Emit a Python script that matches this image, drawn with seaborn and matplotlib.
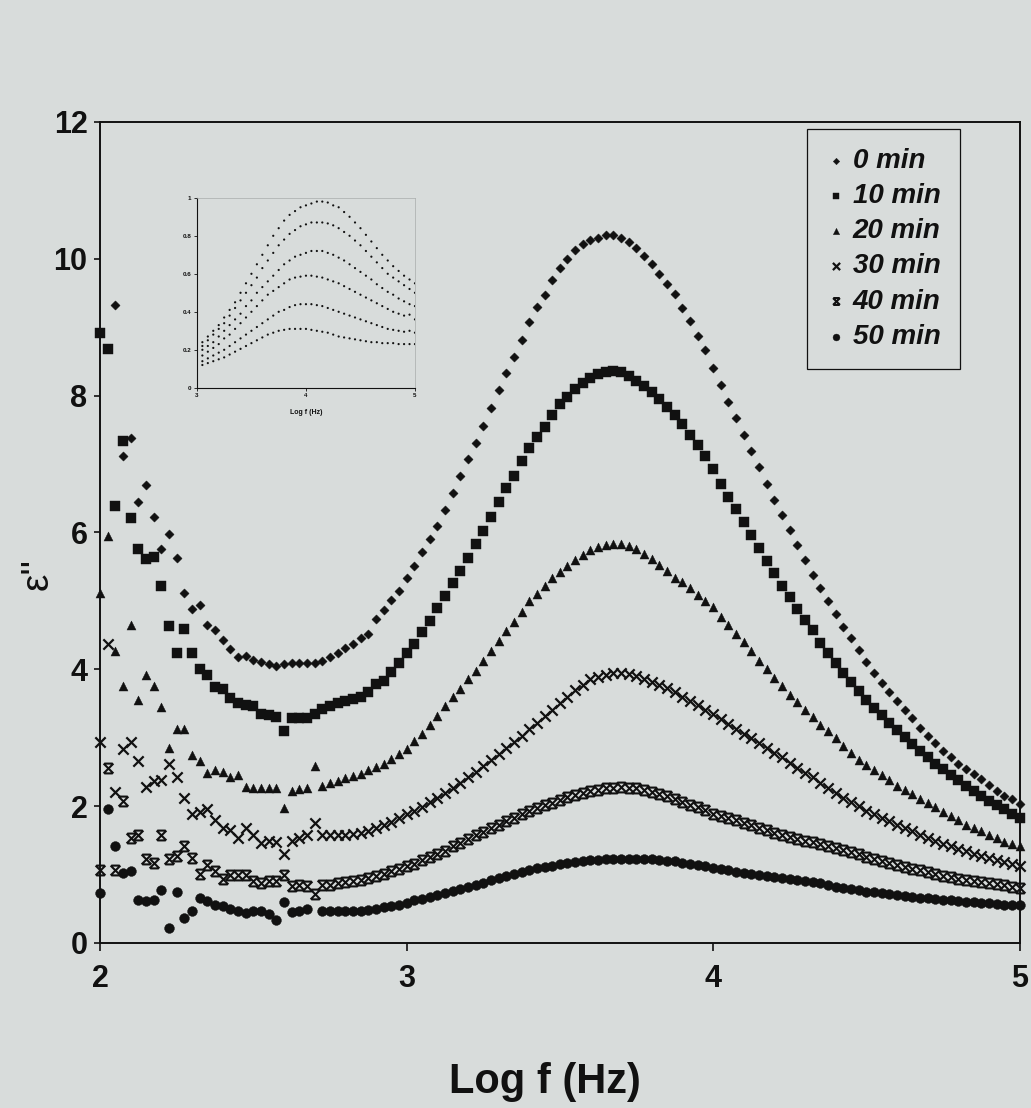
import numpy as np
import matplotlib
matplotlib.use("Agg")
import matplotlib.pyplot as plt
from matplotlib.path import Path
from matplotlib.font_manager import FontProperties
import seaborn as sns

nan = np.nan

# ---- main plot data (log f grid, eps'' per sintering time) ----
log_f = [
    2.000, 2.025, 2.050, 2.075, 2.100, 2.125, 2.150, 2.175, 2.200, 2.225,
    2.250, 2.275, 2.300, 2.325, 2.350, 2.375, 2.400, 2.425, 2.450, 2.475,
    2.500, 2.525, 2.550, 2.575, 2.600, 2.625, 2.650, 2.675, 2.700, 2.725,
    2.750, 2.775, 2.800, 2.825, 2.850, 2.875, 2.900, 2.925, 2.950, 2.975,
    3.000, 3.025, 3.050, 3.075, 3.100, 3.125, 3.150, 3.175, 3.200, 3.225,
    3.250, 3.275, 3.300, 3.325, 3.350, 3.375, 3.400, 3.425, 3.450, 3.475,
    3.500, 3.525, 3.550, 3.575, 3.600, 3.625, 3.650, 3.675, 3.700, 3.725,
    3.750, 3.775, 3.800, 3.825, 3.850, 3.875, 3.900, 3.925, 3.950, 3.975,
    4.000, 4.025, 4.050, 4.075, 4.100, 4.125, 4.150, 4.175, 4.200, 4.225,
    4.250, 4.275, 4.300, 4.325, 4.350, 4.375, 4.400, 4.425, 4.450, 4.475,
    4.500, 4.525, 4.550, 4.575, 4.600, 4.625, 4.650, 4.675, 4.700, 4.725,
    4.750, 4.775, 4.800, 4.825, 4.850, 4.875, 4.900, 4.925, 4.950, 4.975,
    5.000]

eps_0min = [
    nan, nan, 9.33, 7.12, 7.38, 6.45, 6.70, 6.23, 5.75, 5.98,
    5.62, 5.11, 4.88, 4.94, 4.64, 4.57, 4.43, 4.29, 4.18, 4.20,
    4.14, 4.10, 4.08, 4.05, 4.08, 4.09, 4.09, 4.09, 4.09, 4.12,
    4.18, 4.24, 4.31, 4.37, 4.45, 4.52, 4.74, 4.86, 5.01, 5.15,
    5.33, 5.51, 5.71, 5.90, 6.10, 6.33, 6.58, 6.82, 7.07, 7.30,
    7.55, 7.82, 8.08, 8.33, 8.57, 8.81, 9.07, 9.29, 9.47, 9.69,
    9.86, 10.00, 10.13, 10.21, 10.27, 10.31, 10.34, 10.35, 10.31, 10.24,
    10.15, 10.04, 9.92, 9.78, 9.63, 9.48, 9.28, 9.09, 8.87, 8.67,
    8.40, 8.15, 7.91, 7.67, 7.43, 7.19, 6.95, 6.71, 6.47, 6.25,
    6.04, 5.81, 5.60, 5.38, 5.18, 4.99, 4.80, 4.62, 4.45, 4.28,
    4.10, 3.94, 3.80, 3.66, 3.53, 3.40, 3.28, 3.14, 3.03, 2.92,
    2.81, 2.71, 2.62, 2.54, 2.47, 2.40, 2.31, 2.22, 2.15, 2.10,
    2.03]

eps_10min = [
    8.92, 8.68, 6.39, 7.33, 6.21, 5.76, 5.61, 5.64, 5.22, 4.63,
    4.24, 4.59, 4.23, 4.01, 3.92, 3.74, 3.71, 3.58, 3.50, 3.47,
    3.46, 3.35, 3.33, 3.30, 3.09, 3.29, 3.28, 3.28, 3.35, 3.42,
    3.46, 3.50, 3.54, 3.57, 3.60, 3.66, 3.79, 3.83, 3.96, 4.09,
    4.24, 4.37, 4.54, 4.71, 4.89, 5.07, 5.26, 5.44, 5.63, 5.83,
    6.02, 6.23, 6.44, 6.65, 6.83, 7.05, 7.23, 7.39, 7.54, 7.72,
    7.87, 7.98, 8.09, 8.19, 8.26, 8.31, 8.35, 8.36, 8.35, 8.29,
    8.22, 8.14, 8.05, 7.95, 7.83, 7.71, 7.58, 7.43, 7.28, 7.11,
    6.92, 6.71, 6.52, 6.34, 6.15, 5.96, 5.77, 5.58, 5.40, 5.22,
    5.05, 4.88, 4.72, 4.57, 4.39, 4.24, 4.09, 3.95, 3.82, 3.68,
    3.55, 3.44, 3.33, 3.22, 3.11, 3.01, 2.90, 2.80, 2.71, 2.62,
    2.54, 2.45, 2.38, 2.30, 2.22, 2.15, 2.08, 2.01, 1.95, 1.89,
    1.83]

eps_20min = [
    5.12, 5.94, 4.26, 3.76, 4.65, 3.55, 3.91, 3.76, 3.45, 2.85,
    3.13, 3.13, 2.75, 2.66, 2.48, 2.53, 2.50, 2.42, 2.46, 2.28,
    2.27, 2.27, 2.27, 2.26, 1.97, 2.22, 2.25, 2.27, 2.59, 2.30,
    2.33, 2.37, 2.41, 2.44, 2.47, 2.52, 2.57, 2.61, 2.69, 2.76,
    2.84, 2.95, 3.05, 3.18, 3.32, 3.46, 3.59, 3.71, 3.85, 3.98,
    4.12, 4.27, 4.41, 4.56, 4.69, 4.84, 4.99, 5.10, 5.21, 5.33,
    5.42, 5.51, 5.59, 5.67, 5.74, 5.79, 5.81, 5.83, 5.83, 5.80,
    5.75, 5.69, 5.61, 5.52, 5.43, 5.34, 5.27, 5.18, 5.09, 5.00,
    4.91, 4.77, 4.64, 4.52, 4.40, 4.26, 4.12, 4.00, 3.87, 3.75,
    3.63, 3.52, 3.41, 3.30, 3.19, 3.09, 2.99, 2.88, 2.78, 2.68,
    2.60, 2.53, 2.45, 2.38, 2.30, 2.24, 2.17, 2.10, 2.05, 1.98,
    1.92, 1.86, 1.79, 1.73, 1.68, 1.63, 1.58, 1.54, 1.48, 1.45,
    1.42]

eps_30min = [
    2.94, 4.37, 2.21, 2.84, 2.94, 2.66, 2.28, 2.36, 2.38, 2.62,
    2.43, 2.12, 1.89, 1.92, 1.96, 1.80, 1.68, 1.65, 1.53, 1.68,
    1.57, 1.46, 1.49, 1.47, 1.30, 1.49, 1.53, 1.57, 1.75, 1.57,
    1.57, 1.57, 1.58, 1.59, 1.61, 1.64, 1.68, 1.72, 1.77, 1.82,
    1.88, 1.93, 1.99, 2.06, 2.12, 2.19, 2.26, 2.34, 2.42, 2.50,
    2.58, 2.67, 2.76, 2.85, 2.94, 3.03, 3.12, 3.22, 3.31, 3.41,
    3.50, 3.60, 3.69, 3.77, 3.85, 3.89, 3.92, 3.94, 3.95, 3.93,
    3.90, 3.86, 3.81, 3.77, 3.72, 3.67, 3.60, 3.54, 3.47, 3.41,
    3.34, 3.27, 3.20, 3.13, 3.06, 2.99, 2.92, 2.85, 2.78, 2.71,
    2.63, 2.55, 2.48, 2.42, 2.34, 2.27, 2.19, 2.12, 2.06, 2.00,
    1.93, 1.88, 1.83, 1.78, 1.73, 1.68, 1.63, 1.58, 1.53, 1.49,
    1.45, 1.41, 1.37, 1.34, 1.30, 1.27, 1.24, 1.21, 1.18, 1.15,
    1.13]

eps_40min = [
    1.07, 2.55, 1.07, 2.08, 1.54, 1.57, 1.22, 1.17, 1.58, 1.22,
    1.27, 1.41, 1.24, 1.00, 1.14, 1.05, 0.93, 0.99, 0.99, 0.99,
    0.90, 0.88, 0.91, 0.90, 0.99, 0.83, 0.85, 0.83, 0.72, 0.85,
    0.85, 0.88, 0.89, 0.90, 0.92, 0.95, 0.98, 1.01, 1.05, 1.08,
    1.12, 1.16, 1.21, 1.25, 1.30, 1.35, 1.41, 1.46, 1.52, 1.57,
    1.62, 1.68, 1.73, 1.78, 1.83, 1.88, 1.93, 1.97, 2.01, 2.05,
    2.09, 2.13, 2.16, 2.19, 2.22, 2.24, 2.26, 2.27, 2.28, 2.27,
    2.26, 2.24, 2.21, 2.18, 2.14, 2.10, 2.06, 2.02, 1.98, 1.94,
    1.89, 1.86, 1.82, 1.79, 1.75, 1.72, 1.68, 1.65, 1.61, 1.58,
    1.55, 1.52, 1.49, 1.47, 1.44, 1.41, 1.38, 1.36, 1.33, 1.30,
    1.26, 1.23, 1.20, 1.17, 1.14, 1.11, 1.08, 1.06, 1.03, 1.00,
    0.98, 0.96, 0.94, 0.92, 0.90, 0.89, 0.87, 0.86, 0.84, 0.82,
    0.80]

eps_50min = [
    0.73, 1.95, 1.41, 1.02, 1.05, 0.62, 0.61, 0.62, 0.77, 0.22,
    0.75, 0.37, 0.47, 0.66, 0.61, 0.56, 0.54, 0.50, 0.47, 0.43,
    0.47, 0.47, 0.42, 0.33, 0.60, 0.45, 0.46, 0.49, nan, 0.46,
    0.46, 0.46, 0.46, 0.46, 0.47, 0.48, 0.50, 0.52, 0.54, 0.56,
    0.59, 0.62, 0.64, 0.67, 0.70, 0.73, 0.76, 0.79, 0.82, 0.85,
    0.88, 0.92, 0.95, 0.98, 1.01, 1.04, 1.07, 1.09, 1.11, 1.13,
    1.15, 1.17, 1.18, 1.20, 1.21, 1.21, 1.22, 1.22, 1.23, 1.23,
    1.23, 1.23, 1.22, 1.21, 1.20, 1.19, 1.17, 1.16, 1.14, 1.12,
    1.10, 1.08, 1.06, 1.04, 1.02, 1.00, 0.99, 0.98, 0.97, 0.95,
    0.94, 0.92, 0.90, 0.89, 0.87, 0.85, 0.82, 0.80, 0.79, 0.77,
    0.75, 0.74, 0.73, 0.71, 0.70, 0.69, 0.67, 0.66, 0.65, 0.64,
    0.63, 0.62, 0.61, 0.60, 0.60, 0.59, 0.58, 0.57, 0.56, 0.56,
    0.55]

labels = ['0 min', '10 min', '20 min', '30 min', '40 min', '50 min']

# ---- inset data ----
inset_log_f = [
    3.00, 3.05, 3.10, 3.15, 3.20, 3.25, 3.30, 3.35, 3.40, 3.45,
    3.50, 3.55, 3.60, 3.65, 3.70, 3.75, 3.80, 3.85, 3.90, 3.95,
    4.00, 4.05, 4.10, 4.15, 4.20, 4.25, 4.30, 4.35, 4.40, 4.45,
    4.50, 4.55, 4.60, 4.65, 4.70, 4.75, 4.80, 4.85, 4.90, 4.95,
    5.00]
inset_a = [.22, .24, .27, .30, .33, .37, .41, .45, .50, .55,
           .60, .65, .70, .75, .80, .84, .88, .91, .93, .95,
           .96, .97, .98, .98, .975, .96, .95, .925, .90, .87,
           .84, .805, .77, .735, .70, .67, .64, .615, .59, .57, .55]
inset_b = [.20, .22, .25, .28, .31, .34, .38, .42, .46, .50,
           .54, .58, .63, .67, .71, .75, .78, .81, .83, .85,
           .86, .87, .87, .87, .865, .855, .84, .82, .80, .775,
           .75, .72, .69, .66, .63, .60, .58, .56, .54, .52, .50]
inset_c = [.18, .20, .22, .24, .27, .30, .33, .36, .39, .43,
           .46, .50, .53, .56, .59, .62, .65, .67, .69, .70,
           .71, .72, .72, .72, .71, .70, .685, .67, .65, .63,
           .61, .59, .57, .545, .525, .505, .49, .47, .455, .44, .43]
inset_d = [.15, .17, .19, .21, .23, .26, .28, .31, .34, .37,
           .40, .43, .46, .49, .51, .53, .55, .57, .58, .585,
           .59, .59, .585, .58, .57, .56, .55, .535, .52, .505,
           .49, .475, .46, .445, .43, .415, .40, .39, .38, .385, .36]
inset_e = [.13, .14, .155, .17, .185, .20, .22, .24, .26, .28,
           .30, .32, .34, .36, .38, .40, .41, .425, .435, .44,
           .44, .44, .435, .43, .42, .41, .40, .39, .38, .37,
           .36, .35, .34, .33, .32, .31, .305, .30, .295, .30, .29]
inset_f = [.11, .12, .13, .14, .15, .16, .175, .19, .205, .22,
           .235, .25, .265, .28, .29, .30, .305, .31, .31, .31,
           .31, .305, .30, .295, .29, .28, .27, .265, .26, .255,
           .25, .245, .24, .24, .235, .235, .235, .23, .23, .23, .23]

# ---- style ----
sns.set_theme(style='ticks')
plt.rcParams['font.family'] = ['Liberation Sans Narrow', 'Liberation Sans', 'DejaVu Sans']
bg = '#d8dcdb'
ink = '#111111'
plt.rcParams['text.color'] = ink

# X with top and bottom bars, used for 40 min
hourglass = Path([(-1, -1), (1, 1), (-1, 1), (1, -1),
                  (-0.85, 1), (0.85, 1), (-0.85, -1), (0.85, -1)],
                 [Path.MOVETO, Path.LINETO] * 4)

series = [eps_0min, eps_10min, eps_20min, eps_30min, eps_40min, eps_50min]
markers = ['D', 's', '^', 'x', hourglass, 'o']
sizes = [22, 46, 42, 55, 50, 50]
widths = [0.3, 0.3, 0.3, 1.6, 1.5, 0.3]

fig = plt.figure(figsize=(10.31, 11.08), dpi=100, facecolor=bg)
ax = fig.add_axes([0.097, 0.149, 0.892, 0.741], facecolor=bg)

for y, m, s, lw, lab in zip(series, markers, sizes, widths, labels):
    sns.scatterplot(x=log_f, y=y, marker=m, s=s, color=ink, edgecolor=ink,
                    linewidth=lw, label=lab, ax=ax, clip_on=False, zorder=3)

ax.set_xlim(2, 5)
ax.set_ylim(0, 12)
ax.set_xticks([2, 3, 4, 5])
ax.set_yticks([0, 2, 4, 6, 8, 10, 12])
ax.tick_params(axis='x', length=6, width=1.2, pad=9, labelsize=22, colors=ink)
ax.tick_params(axis='y', length=4, width=1.2, pad=5, labelsize=22, colors=ink)
for t in ax.get_xticklabels() + ax.get_yticklabels():
    t.set_fontweight('bold')
for sp in ax.spines.values():
    sp.set_visible(True)
    sp.set_linewidth(1.4)
    sp.set_color(ink)

ax.set_xlabel('Log f (Hz)', fontsize=30, fontweight='bold', color=ink)
ax.xaxis.set_label_coords(0.484, -0.17)
ax.xaxis.label.set_va('center')
ax.set_ylabel("\u03b5''", fontsize=28, color=ink)
ax.yaxis.set_label_coords(-0.068, 0.45)
ax.yaxis.label.set_va('center')

leg = ax.legend(loc='upper right', bbox_to_anchor=(0.931, 0.884),
                bbox_transform=fig.transFigure, borderaxespad=0,
                prop=FontProperties(family=['Liberation Sans Narrow', 'Liberation Sans'],
                                    weight='bold', style='italic', size=20),
                frameon=True, fancybox=False, edgecolor=ink, facecolor=bg,
                framealpha=1, borderpad=0.7, labelspacing=0.33,
                handlelength=0.7, handletextpad=0.25, markerscale=0.7,
                labelcolor=ink)
leg.get_frame().set_linewidth(0.9)

# ---- inset ----
axi = fig.add_axes([0.191, 0.650, 0.2115, 0.1715], facecolor=bg)
for y in [inset_a, inset_b, inset_c, inset_d, inset_e, inset_f]:
    sns.scatterplot(x=inset_log_f, y=y, marker='o', s=2.5, color=ink,
                    edgecolor='none', ax=axi, legend=False)
axi.set_xlim(3, 5)
axi.set_ylim(0, 1)
axi.set_xticks([3, 4, 5])
axi.set_xticklabels(['3', '4', '5'])
axi.set_yticks([0, 0.2, 0.4, 0.6, 0.8, 1.0])
axi.set_yticklabels(['0', '0.2', '0.4', '0.6', '0.8', '1'])
axi.tick_params(length=2, width=0.6, pad=2, labelsize=4.5, colors=ink)
for t in axi.get_xticklabels() + axi.get_yticklabels():
    t.set_fontweight('bold')
axi.spines['left'].set_color(ink)
axi.spines['bottom'].set_color(ink)
axi.spines['left'].set_linewidth(0.8)
axi.spines['bottom'].set_linewidth(0.8)
axi.spines['top'].set_color('#a8acab')
axi.spines['right'].set_color('#a8acab')
axi.spines['top'].set_linewidth(0.5)
axi.spines['right'].set_linewidth(0.5)
axi.set_xlabel('Log f (Hz)', fontsize=5, fontweight='bold', color=ink, labelpad=8)
axi.set_ylabel('')

fig.savefig('out.png', dpi=100, facecolor=bg)
